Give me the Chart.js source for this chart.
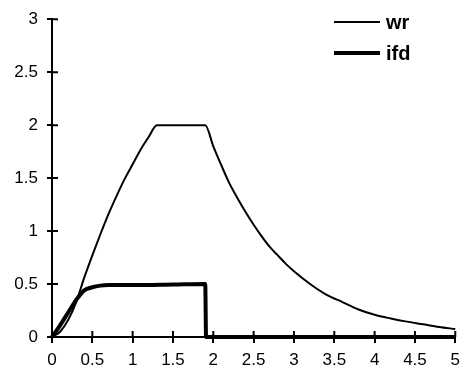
<!DOCTYPE html>
<html>
<head>
<meta charset="utf-8">
<script src="https://cdn.jsdelivr.net/npm/chart.js@4/dist/chart.umd.min.js"></script>
<style>
  body { margin: 0; background: #fff; }
</style>
</head>
<body>
<canvas id="chart" width="467" height="372"></canvas>
<script>
const seriesNames = ["wr", "ifd"];

const wrX = [0, 0.1, 0.2, 0.3, 0.4, 0.5, 0.6, 0.7, 0.8, 0.9, 1.0, 1.1, 1.2, 1.3, 1.6, 1.9,
             2.0, 2.1, 2.2, 2.3, 2.4, 2.5, 2.6, 2.7, 2.8, 2.9, 3.0, 3.2, 3.4, 3.6, 3.8, 4.0, 4.2, 4.4, 4.6, 4.8, 5.0];
const wrY = [0, 0.05, 0.16, 0.33, 0.56, 0.77, 0.97, 1.16, 1.33, 1.49, 1.63, 1.77, 1.89, 2.0, 2.0, 2.0,
             1.80, 1.62, 1.45, 1.31, 1.18, 1.06, 0.95, 0.85, 0.77, 0.69, 0.62, 0.50, 0.40, 0.33, 0.26, 0.21, 0.175, 0.145, 0.12, 0.095, 0.075];

const ifdX = [0, 0.1, 0.2, 0.3, 0.4, 0.5, 0.6, 0.7, 1.0, 1.5, 1.9, 1.91, 3.0, 5.0];
const ifdY = [0, 0.11, 0.23, 0.35, 0.44, 0.47, 0.485, 0.49, 0.49, 0.495, 0.5, 0, 0, 0];

const xTickLabels = ["0", "0.5", "1", "1.5", "2", "2.5", "3", "3.5", "4", "4.5", "5"];
const yTickLabels = ["0", "0.5", "1", "1.5", "2", "2.5", "3"];

const FONT = "'Liberation Sans', Arial, sans-serif";

// inner half of the cross tick marks + legend drawn inside the plot
const extrasPlugin = {
    id: 'extras',
    afterDraw(chart) {
        const ctx = chart.ctx;
        const xs = chart.scales.x, ys = chart.scales.y;
        ctx.save();
        ctx.strokeStyle = '#000';
        ctx.lineWidth = 2;
        ctx.beginPath();
        xs.ticks.forEach((t, i) => {
            const px = xs.getPixelForTick(i);
            ctx.moveTo(px, ys.bottom);
            ctx.lineTo(px, ys.bottom - 6);
        });
        ys.ticks.forEach((t, i) => {
            const py = ys.getPixelForTick(i);
            ctx.moveTo(xs.left, py);
            ctx.lineTo(xs.left + 6, py);
        });
        ctx.stroke();

        chart.data.datasets.forEach((ds, i) => {
            const y = 22 + 31 * i;
            ctx.lineWidth = ds.borderWidth;
            ctx.beginPath();
            ctx.moveTo(334, y);
            ctx.lineTo(380, y);
            ctx.stroke();
            ctx.fillStyle = '#000';
            ctx.font = "bold 20px " + FONT;
            ctx.textBaseline = 'middle';
            ctx.fillText(ds.label, 386, y + 1);
        });
        ctx.restore();
    }
};

new Chart(document.getElementById("chart"), {
    type: 'line',
    data: {
        datasets: [{
            label: seriesNames[0],
            data: wrX.map((x, i) => ({ x: x, y: wrY[i] })),
            borderColor: '#000',
            borderWidth: 2,
            pointRadius: 0,
            cubicInterpolationMode: 'monotone',
            clip: false
        }, {
            label: seriesNames[1],
            data: ifdX.map((x, i) => ({ x: x, y: ifdY[i] })),
            borderColor: '#000',
            borderWidth: 4,
            pointRadius: 0,
            cubicInterpolationMode: 'monotone',
            clip: false
        }]
    },
    options: {
        responsive: false,
        animation: false,
        layout: { padding: { top: 19, right: 7, left: 0, bottom: 0 } },
        plugins: { legend: { display: false }, tooltip: { enabled: false } },
        scales: {
            x: {
                type: 'linear',
                min: 0, max: 5,
                afterFit(scale) { scale.height = 35; },
                ticks: {
                    stepSize: 0.5,
                    padding: 7,
                    color: '#000',
                    maxRotation: 0,
                    font: { family: FONT, size: 17 },
                    callback: (v, i) => xTickLabels[i]
                },
                grid: { drawOnChartArea: false, color: '#000', lineWidth: 2, tickLength: 6 },
                border: { color: '#000', width: 2 }
            },
            y: {
                min: 0, max: 3,
                afterFit(scale) { scale.width = 52; },
                ticks: {
                    stepSize: 0.5,
                    padding: 9,
                    color: '#000',
                    font: { family: FONT, size: 17 },
                    callback: (v, i) => yTickLabels[i]
                },
                grid: { drawOnChartArea: false, color: '#000', lineWidth: 2, tickLength: 5 },
                border: { color: '#000', width: 2 }
            }
        }
    },
    plugins: [extrasPlugin]
});
</script>
</body>
</html>
